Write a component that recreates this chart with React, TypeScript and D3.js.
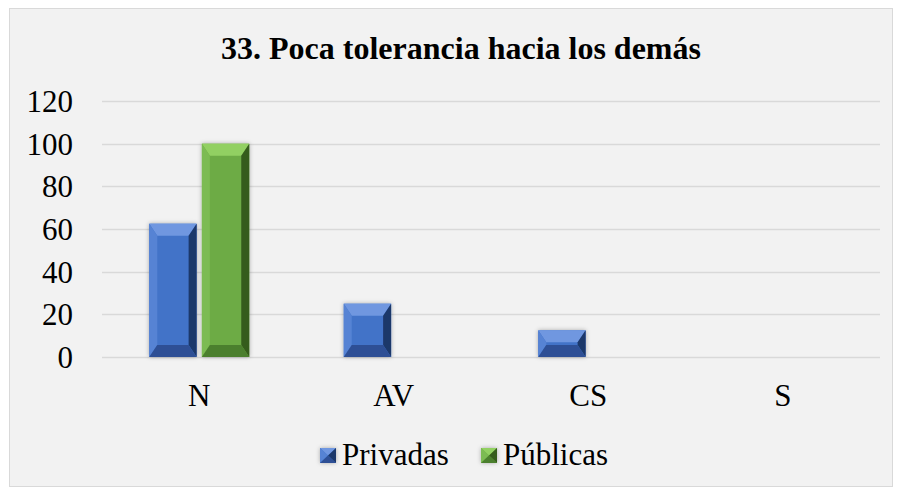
import * as d3 from 'd3'

const categories = ['N', 'AV', 'CS', 'S']
const privadas = [62.5, 25, 12.5, 0]
const publicas = [100, 0, 0, 0]
const yTicks = [0, 20, 40, 60, 80, 100, 120]

const series = [
  { name: 'Privadas', values: privadas, main: '#4273c8', light: '#6f97e0', dark: '#1d376b', bottom: '#2d5095', left: '#5683d4' },
  { name: 'Públicas', values: publicas, main: '#6dab45', light: '#92d062', dark: '#365c1c', bottom: '#4b7f2d', left: '#7cbb52' },
]

const W = 899
const H = 490
const serif = { fontFamily: '"Liberation Serif"' }

function BevelBar({ x, y, w, h, s }: { x: number; y: number; w: number; h: number; s: typeof series[number] }) {
  if (h <= 0) return null
  const b = Math.min(12, h / 2, w / 2)
  const bs = Math.min(8, w / 2)
  const x1 = x + w
  const y1 = y + h
  return (
    <g filter="url(#shadow)">
      <rect x={x} y={y} width={w} height={h} fill={s.main} />
      <polygon points={`${x},${y} ${x1},${y} ${x1 - bs},${y + b} ${x + bs},${y + b}`} fill={s.light} />
      <polygon points={`${x},${y} ${x + bs},${y + b} ${x + bs},${y1 - b} ${x},${y1}`} fill={s.left} />
      <polygon points={`${x1},${y} ${x1},${y1} ${x1 - bs},${y1 - b} ${x1 - bs},${y + b}`} fill={s.dark} />
      <polygon points={`${x},${y1} ${x + bs},${y1 - b} ${x1 - bs},${y1 - b} ${x1},${y1}`} fill={s.bottom} />
    </g>
  )
}

export default function App() {
  const left = 102
  const right = 880
  const y = d3.scaleLinear().domain([0, 120]).range([357, 101])
  const x = d3.scaleBand().domain(categories).range([left, right])
  const inner = d3.scaleBand().domain(series.map(s => s.name)).range([0, 100]).paddingInner(0.1)
  const groupOffset = (x.bandwidth() - 100) / 2

  return (
    <svg width={W} height={H} style={{ position: 'absolute', left: 0, top: 0 }}>
      <defs>
        <filter id="shadow" x="-30%" y="-30%" width="160%" height="160%">
          <feDropShadow dx="0" dy="0" stdDeviation="2" floodColor="#000" floodOpacity="0.3" />
        </filter>
      </defs>
      <rect x={9.5} y={8.5} width={883} height={478} fill="#f2f2f2" stroke="#d9d9d9" strokeWidth={1} />
      <text x={461} y={59} textAnchor="middle" fontWeight="bold" fontSize={32} style={serif}>
        33. Poca tolerancia hacia los demás
      </text>
      {yTicks.map(t => (
        <g key={t}>
          <line x1={left} x2={right} y1={Math.round(y(t)) + 0.5} y2={Math.round(y(t)) + 0.5} stroke="#d9d9d9" strokeWidth={1.5} />
          <text x={73} y={y(t) + 11} textAnchor="end" fontSize={31} style={serif}>{t}</text>
        </g>
      ))}
      {categories.map((c, i) => (
        <g key={c}>
          {series.map(s => {
            const v = s.values[i]
            const bx = (x(c) ?? 0) + groupOffset + (inner(s.name) ?? 0)
            return <BevelBar key={s.name} x={bx} y={y(v)} w={inner.bandwidth()} h={y(0) - y(v)} s={s} />
          })}
          <text x={(x(c) ?? 0) + x.bandwidth() / 2} y={406} textAnchor="middle" fontSize={31} style={serif}>{c}</text>
        </g>
      ))}
      {series.map((s, i) => {
        const lx = i === 0 ? 320 : 481
        return (
          <g key={s.name}>
            <BevelBar x={lx} y={448} w={16} h={15} s={{ ...s }} />
            <text x={lx + 22} y={465} fontSize={31} style={serif}>{s.name}</text>
          </g>
        )
      })}
    </svg>
  )
}
